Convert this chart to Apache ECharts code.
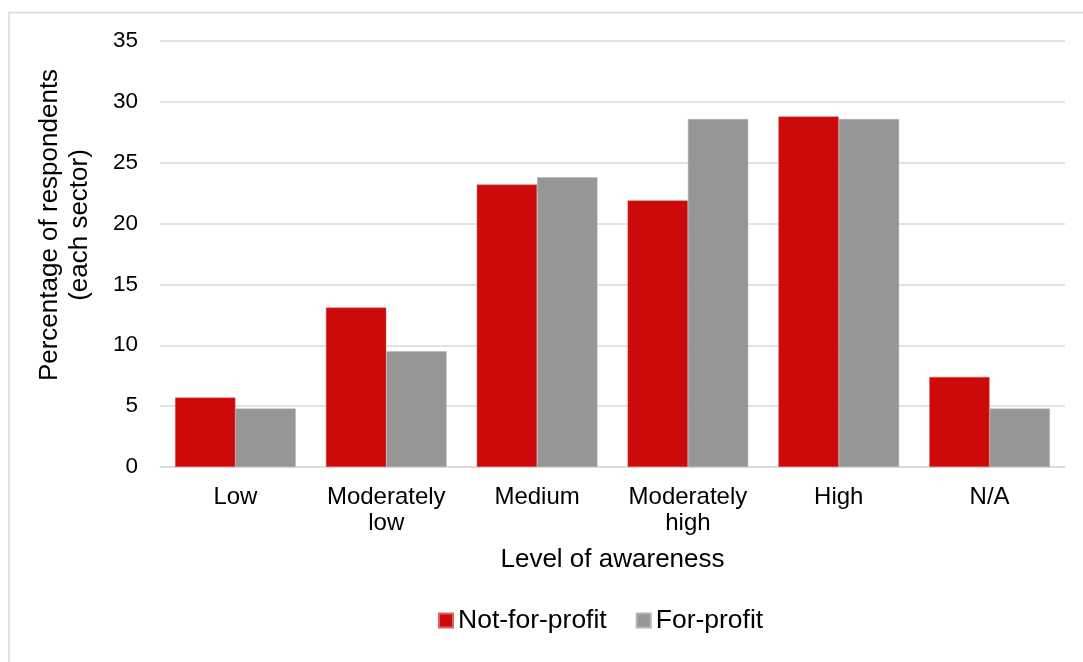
<!DOCTYPE html>
<html>
<head>
<meta charset="utf-8">
<script src="https://cdn.jsdelivr.net/npm/echarts@6/dist/echarts.min.js"></script>
<style>
html,body{margin:0;padding:0;background:#fff;}
#chart{width:1083px;height:662px;}
</style>
</head>
<body>
<div id="chart"></div>
<script>
var categories = ['Low', 'Moderately\nlow', 'Medium', 'Moderately\nhigh', 'High', 'N/A'];
var notForProfit = [5.7, 13.1, 23.2, 21.9, 28.8, 7.4];
var forProfit = [4.8, 9.5, 23.8, 28.6, 28.6, 4.8];
var seriesNames = ['Not-for-profit', 'For-profit'];
var yTitle = 'Percentage of respondents\n(each sector)';
var xTitle = 'Level of awareness';

var font = 'Liberation Sans, Arial, sans-serif';
var chart = echarts.init(document.getElementById('chart'));
chart.setOption({
  animation: false,
  backgroundColor: '#fff',
  graphic: [{
    type: 'rect',
    shape: {x: 9, y: 12.5, width: 1200, height: 800},
    style: {fill: 'none', stroke: '#d9d9d9', lineWidth: 1.5},
    silent: true
  }],
  grid: {left: 160, right: 18, top: 41, bottom: 195},
  legend: {
    top: 602,
    left: 433,
    itemWidth: 14,
    itemHeight: 14,
    itemGap: 29,
    icon: 'rect',
    textStyle: {fontFamily: font, fontSize: 26.5, color: '#000'},
    data: seriesNames
  },
  xAxis: {
    type: 'category',
    data: categories,
    name: xTitle,
    nameLocation: 'middle',
    nameGap: 80,
    nameTextStyle: {fontFamily: font, fontSize: 26, color: '#000'},
    axisLine: {lineStyle: {color: '#d9d9d9', width: 1.5}},
    axisTick: {show: false},
    axisLabel: {fontFamily: font, fontSize: 24, color: '#000', margin: 17, lineHeight: 26, interval: 0}
  },
  yAxis: {
    type: 'value',
    min: 0,
    max: 35,
    interval: 5,
    name: yTitle,
    nameLocation: 'middle',
    nameGap: 65,
    nameTextStyle: {fontFamily: font, fontSize: 26, color: '#000', lineHeight: 30, padding: [0, 0, 0, 58]},
    axisLine: {show: false},
    axisTick: {show: false},
    axisLabel: {fontFamily: font, fontSize: 22.5, color: '#000', margin: 22},
    splitLine: {lineStyle: {color: '#d9d9d9', width: 1.5}}
  },
  series: [{
    name: seriesNames[0],
    type: 'bar',
    data: notForProfit,
    barGap: '0%',
    barCategoryGap: '20%',
    itemStyle: {color: '#cc0a0a', borderColor: '#e06060', borderWidth: 0.5}
  }, {
    name: seriesNames[1],
    type: 'bar',
    data: forProfit,
    barGap: '0%',
    barCategoryGap: '20%',
    itemStyle: {color: '#969696', borderColor: '#b4b4b4', borderWidth: 0.5}
  }]
});
</script>
</body>
</html>
